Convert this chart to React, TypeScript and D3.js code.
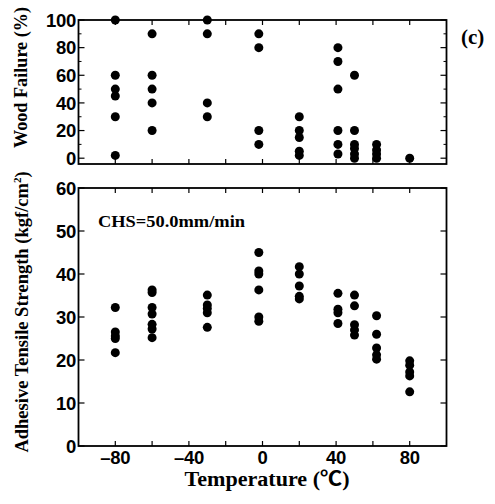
import React from "react";
import * as d3 from "d3";

const temps = [-80, -60, -30, -2, 20, 41, 50, 62, 80];
const woodFailure: number[][] = [
  [100, 60, 50, 45, 30, 2],
  [90, 60, 50, 40, 20],
  [100, 90, 40, 30],
  [90, 80, 20, 10],
  [30, 20, 15, 5, 2],
  [80, 70, 50, 20, 10, 3],
  [60, 20, 10, 7, 3, 0],
  [10, 6, 3, 0],
  [0],
];
const strength: number[][] = [
  [32.2, 26.5, 25.6, 25, 21.7],
  [36.3, 35.7, 32.2, 30.7, 28.3, 27.2, 25.2],
  [35.1, 32.8, 32, 31, 27.6],
  [45, 40.7, 40, 36.3, 30, 29],
  [41.7, 40, 37.2, 34.8, 34.2],
  [35.5, 31.8, 31, 28.5],
  [35.1, 32.6, 28.2, 27, 25.8],
  [30.3, 26, 22.8, 21.2, 20.2],
  [19.8, 18.8, 17.2, 16.3, 12.6],
];
const xTicks = [-80, -60, -40, -20, 0, 20, 40, 60, 80];
const xTickLabels = [-80, -40, 0, 40, 80];
const wfTicks = [0, 20, 40, 60, 80, 100];
const wfMinor = [10, 30, 50, 70, 90];
const stTicks = [0, 10, 20, 30, 40, 50, 60];

const W = 495, H = 504;
const L = 78.5, R = 446.5;
const x = d3.scaleLinear().domain([-100, 100]).range([L, R]);
const yTop = d3.scaleLinear().domain([-4.2, 100]).range([164, 20]);
const yBot = d3.scaleLinear().domain([0, 60]).range([446, 188]);

const numFont = "'Liberation Sans', Arial, sans-serif";
const serif = "'Liberation Serif', 'Times New Roman', 'Noto Sans CJK JP', serif";

function fmt(v: number) {
  return v < 0 ? "\u2013" + Math.abs(v) : String(v);
}

function Frame({ y, top, bottom, major, minor }: any) {
  const sw = 1.8;
  return (
    <g>
      <rect x={L} y={top} width={R - L} height={bottom - top} fill="none" stroke="#000" strokeWidth={sw} />
      {xTicks.map((t) => (
        <g key={"xt" + t}>
          <line x1={x(t)} x2={x(t)} y1={top} y2={top + 5} stroke="#000" strokeWidth={1.2} />
          <line x1={x(t)} x2={x(t)} y1={bottom} y2={bottom - 5} stroke="#000" strokeWidth={1.2} />
        </g>
      ))}
      {major.map((t: number) => (
        <g key={"yt" + t}>
          <line x1={L} x2={L + 6} y1={y(t)} y2={y(t)} stroke="#000" strokeWidth={1.2} />
          <line x1={R} x2={R - 6} y1={y(t)} y2={y(t)} stroke="#000" strokeWidth={1.2} />
          <text x={76} y={y(t)} dy="0.37em" textAnchor="end" fontFamily={numFont} fontWeight="900" fontSize={18.5} letterSpacing={-0.3}>
            {t}
          </text>
        </g>
      ))}
      {minor.map((t: number) => (
        <g key={"ym" + t}>
          <line x1={L} x2={L + 3} y1={y(t)} y2={y(t)} stroke="#000" strokeWidth={1} />
          <line x1={R} x2={R - 3} y1={y(t)} y2={y(t)} stroke="#000" strokeWidth={1} />
        </g>
      ))}
    </g>
  );
}

export default function App() {
  const r = 4.5;
  return (
    <svg width={W} height={H} style={{ position: "absolute", left: 0, top: 0, background: "#fff" }}>
      <rect width={W} height={H} fill="#fff" />
      <Frame y={yTop} top={20} bottom={164} major={wfTicks} minor={wfMinor} />
      <Frame y={yBot} top={188} bottom={446} major={stTicks} minor={[]} />
      {temps.map((t, i) =>
        woodFailure[i].map((v, j) => <circle key={"w" + i + "-" + j} cx={x(t)} cy={yTop(v)} r={r} fill="#000" />)
      )}
      {temps.map((t, i) =>
        strength[i].map((v, j) => <circle key={"s" + i + "-" + j} cx={x(t)} cy={yBot(v)} r={r} fill="#000" />)
      )}
      {xTickLabels.map((t) => (
        <text key={"xl" + t} x={x(t)} y={464} textAnchor="middle" fontFamily={numFont} fontWeight="900" fontSize={18.5} letterSpacing={-0.3}>
          {fmt(t)}
        </text>
      ))}
      <text x={267} y={486} textAnchor="middle" fontFamily={serif} fontWeight="bold" fontSize={20} textLength={165} lengthAdjust="spacingAndGlyphs">
        Temperature (℃)
      </text>
      <text transform="translate(27,77.5) rotate(-90)" textAnchor="middle" fontFamily={serif} fontWeight="bold" fontSize={18} textLength={141} lengthAdjust="spacingAndGlyphs">
        Wood Failure (%)
      </text>
      <text transform="translate(28,312) rotate(-90)" textAnchor="middle" fontFamily={serif} fontWeight="bold" fontSize={18.5}>
        Adhesive Tensile Strength (kgf/cm<tspan dy={-7} fontSize={11}>2</tspan><tspan dy={7}>)</tspan>
      </text>
      <text x={98} y={227} fontFamily={serif} fontWeight="bold" fontSize={17.5} textLength={147} lengthAdjust="spacingAndGlyphs">
        CHS=50.0mm/min
      </text>
      <text x={461} y={44} fontFamily={serif} fontWeight="bold" fontSize={21}>
        (c)
      </text>
    </svg>
  );
}
